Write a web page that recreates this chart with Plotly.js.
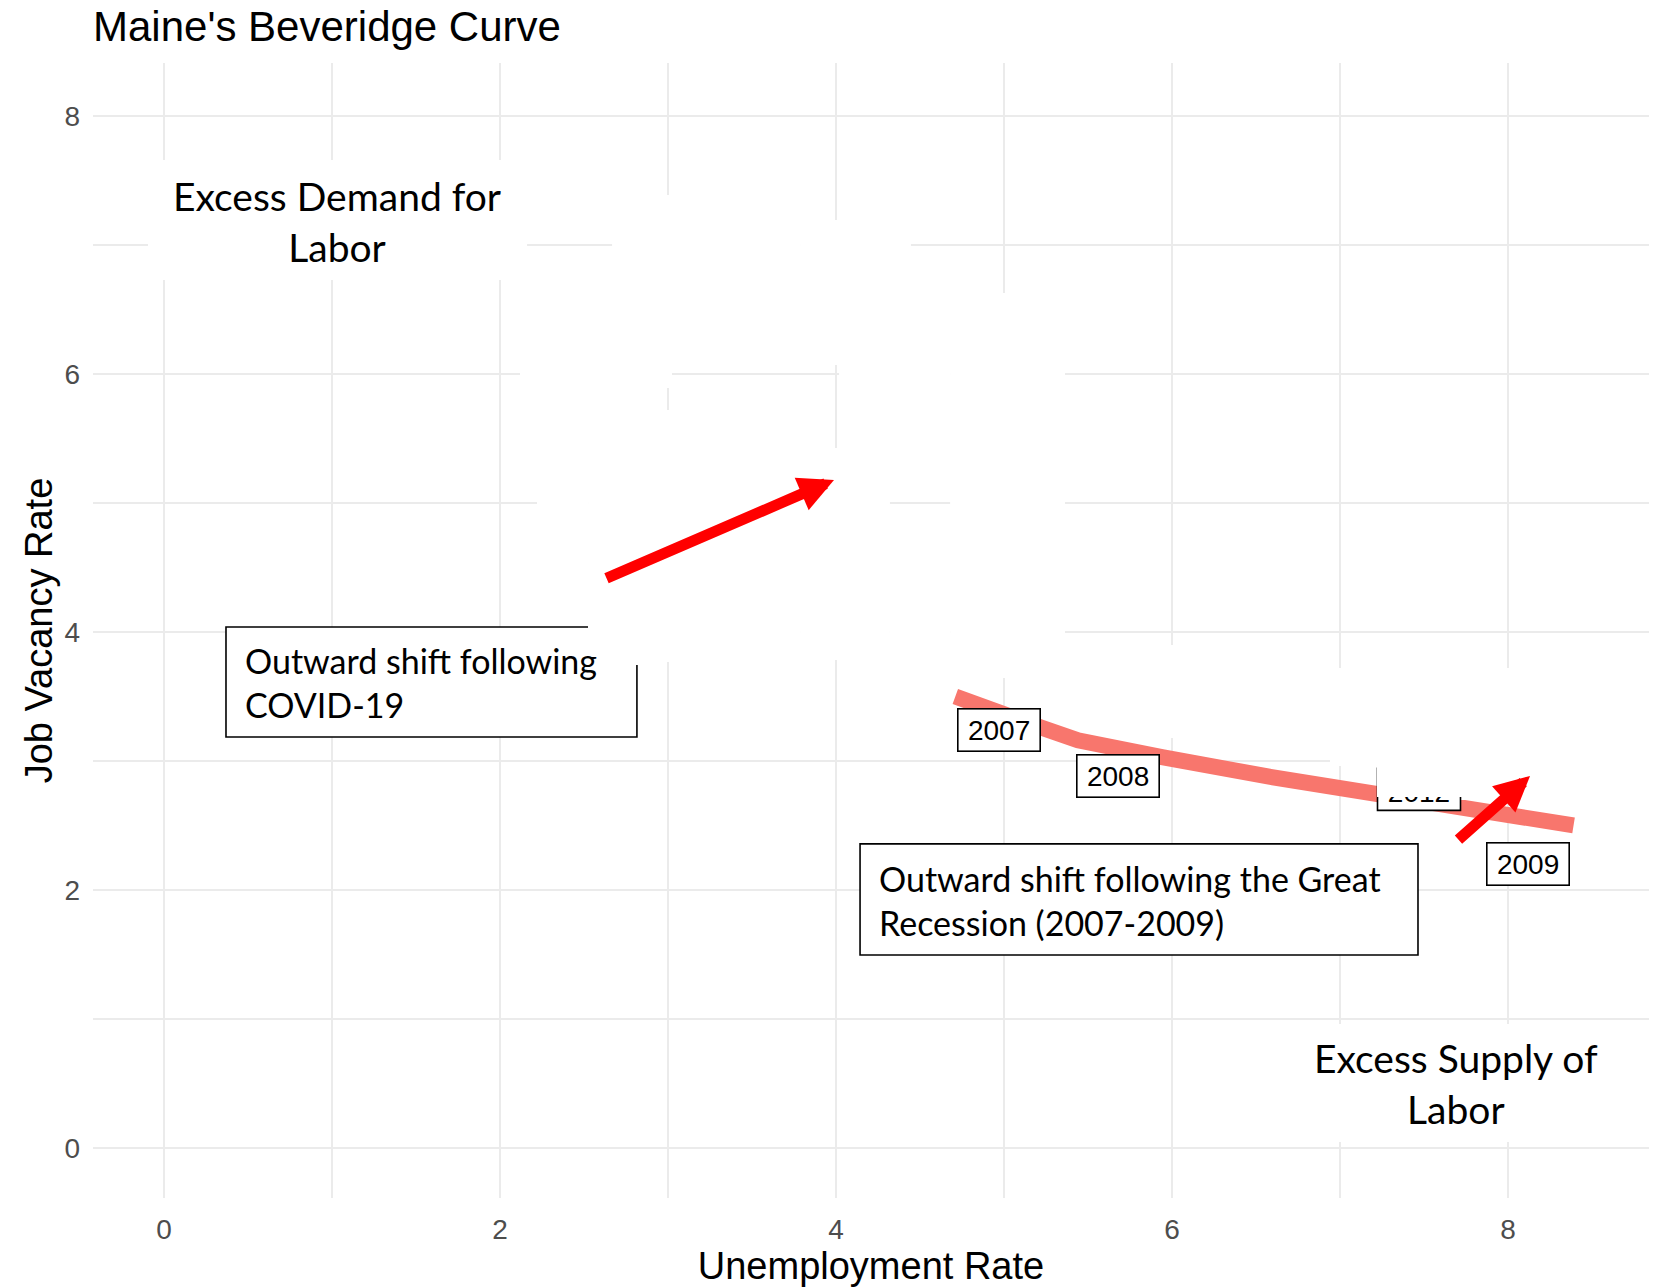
<!DOCTYPE html>
<html><head><meta charset="utf-8">
<script src="https://cdn.plot.ly/plotly-3.0.1.min.js"></script>
<style>html,body{margin:0;padding:0;background:#fff;} #chart{width:1655px;height:1287px;}</style>
</head><body><div id="chart"></div>
<script>
// ---- data ----
const unemploymentRate = [4.71, 5.00, 5.22, 5.44, 5.69, 5.94, 6.57, 7.20, 7.83, 8.39];
const jobVacancyRate   = [3.50, 3.38, 3.26, 3.16, 3.09, 3.03, 2.88, 2.75, 2.60, 2.50];
const yearLabels = ['2007', '2008', '2012', '2009'];
const yearLabelX = [4.97, 5.68, 7.47, 8.12];
const yearLabelY = [3.24, 2.88, 2.78, 2.20];
const xTickVals = [0, 2, 4, 6, 8];
const yTickVals = [0, 2, 4, 6, 8];
const minorTickVals = [1, 3, 5, 7];

const GRID = '#ebebeb';
const BOXFONT = 'Lato, "Open Sans", sans-serif';
const ARIAL = '"Liberation Sans", Arial, sans-serif';

function rect(x0, x1, y0, y1, extra) {
  return Object.assign({type: 'rect', xref: 'x', yref: 'y', x0: x0, x1: x1, y0: y0, y1: y1,
    layer: 'above', fillcolor: '#ffffff', line: {width: 0}}, extra || {});
}

const shapes = [];
// white background of the corner texts
shapes.push(rect(-0.095, 2.161, 6.729, 7.659));
shapes.push(rect(6.345, 8.839, 0.047, 0.961));
// COVID box
shapes.push(rect(0.369, 2.815, 3.186, 4.039, {line: {color: '#000', width: 1.6}}));
// Great Recession box
shapes.push(rect(4.143, 7.464, 1.496, 2.357, {line: {color: '#000', width: 1.6}}));
// white patches over the grid
[[2.667, 3.786, 6.070, 7.388], [3.786, 4.446, 6.070, 7.194], [2.119, 3.024, 5.891, 6.109],
 [4.018, 4.679, 5.488, 6.574], [4.679, 5.363, 3.643, 6.628], [2.524, 3.786, 3.767, 5.721],
 [2.220, 2.524, 4.132, 5.721], [3.786, 4.321, 3.783, 5.426], [4.321, 4.679, 3.628, 4.946],
 [2.524, 2.863, 3.744, 4.248], [5.631, 6.940, 3.178, 3.899], [6.940, 8.839, 2.961, 3.721],
 [7.714, 8.839, 2.698, 2.961]].forEach(r => shapes.push(rect(r[0], r[1], r[2], r[3])));
// partly hidden year label (drawn as a shape so it can be covered)
const hx = yearLabelX[2], hy = yearLabelY[2];
shapes.push(rect(hx - 0.247, hx + 0.247, hy - 0.163, hy + 0.163, {
  line: {color: '#000', width: 1.6},
  label: {text: yearLabels[2], font: {family: ARIAL, size: 28, color: '#000'}, textposition: 'middle center'}
}));
shapes.push(rect(7.220, 7.744, 2.721, 3.008));

const annotations = [];
// year labels
[0, 1, 3].forEach(i => annotations.push({
  x: yearLabelX[i], y: yearLabelY[i], xref: 'x', yref: 'y', text: yearLabels[i], showarrow: false,
  font: {family: ARIAL, size: 28, color: '#000'}, bgcolor: '#fff', bordercolor: '#000',
  borderwidth: 1.6, borderpad: 4, width: 73, height: 33
}));
// corner texts
annotations.push({x: 1.03, y: 7.18, xref: 'x', yref: 'y', showarrow: false,
  text: 'Excess Demand for<br>Labor', align: 'center',
  font: {family: BOXFONT, size: 39, color: '#000'}});
annotations.push({x: 7.69, y: 0.50, xref: 'x', yref: 'y', showarrow: false,
  text: 'Excess Supply of<br>Labor', align: 'center',
  font: {family: BOXFONT, size: 39, color: '#000'}});
// box texts
annotations.push({x: 0.470, y: 3.612, xref: 'x', yref: 'y', xanchor: 'left', yanchor: 'middle',
  showarrow: false, align: 'left', text: 'Outward shift following<br>COVID-19',
  font: {family: BOXFONT, size: 34, color: '#000'}});
annotations.push({x: 4.244, y: 1.922, xref: 'x', yref: 'y', xanchor: 'left', yanchor: 'middle',
  showarrow: false, align: 'left', text: 'Outward shift following the Great<br>Recession (2007-2009)',
  font: {family: BOXFONT, size: 34, color: '#000'}});
// red arrows
annotations.push({x: 3.988, y: 5.178, ax: 2.625, ay: 4.411, xref: 'x', yref: 'y', axref: 'x', ayref: 'y',
  text: '', showarrow: true, arrowhead: 2, arrowsize: 0.64, arrowwidth: 11, arrowcolor: '#ff0000', standoff: 0});
annotations.push({x: 8.131, y: 2.884, ax: 7.696, ay: 2.380, xref: 'x', yref: 'y', axref: 'x', ayref: 'y',
  text: '', showarrow: true, arrowhead: 2, arrowsize: 0.64, arrowwidth: 11, arrowcolor: '#ff0000', standoff: 0});

const traces = [{
  x: unemploymentRate, y: jobVacancyRate, type: 'scatter', mode: 'lines',
  line: {color: '#F8766D', width: 16}, hoverinfo: 'skip', showlegend: false
}];

const axisCommon = {
  showgrid: true, gridcolor: GRID, gridwidth: 2.4, zeroline: false, showline: false, ticks: '',
  tickfont: {family: ARIAL, size: 28, color: '#4d4d4d'}, ticklabelstandoff: 12,
  minor: {tickvals: minorTickVals, showgrid: true, gridcolor: GRID, gridwidth: 1.6, ticks: ''}
};

const layout = {
  width: 1655, height: 1287,
  margin: {l: 93, r: 6, t: 63, b: 89},
  paper_bgcolor: '#fff', plot_bgcolor: '#fff', showlegend: false,
  title: {text: "Maine's Beveridge Curve", font: {family: ARIAL, size: 42, color: '#000'},
    x: 0, xref: 'paper', xanchor: 'left', y: 1 - 26 / 1287, yref: 'container', yanchor: 'middle'},
  xaxis: Object.assign({}, axisCommon, {range: [-0.4226, 8.839], tickvals: xTickVals,
    ticktext: xTickVals.map(String),
    title: {text: 'Unemployment Rate', font: {family: ARIAL, size: 38, color: '#000'}, standoff: 6}}),
  yaxis: Object.assign({}, axisCommon, {range: [-0.388, 8.411], tickvals: yTickVals,
    ticktext: yTickVals.map(String),
    title: {text: 'Job Vacancy Rate', font: {family: ARIAL, size: 38, color: '#000'}, standoff: 0}}),
  shapes: shapes, annotations: annotations
};

Plotly.newPlot('chart', traces, layout, {displayModeBar: false, staticPlot: true});
</script>
</body></html>
